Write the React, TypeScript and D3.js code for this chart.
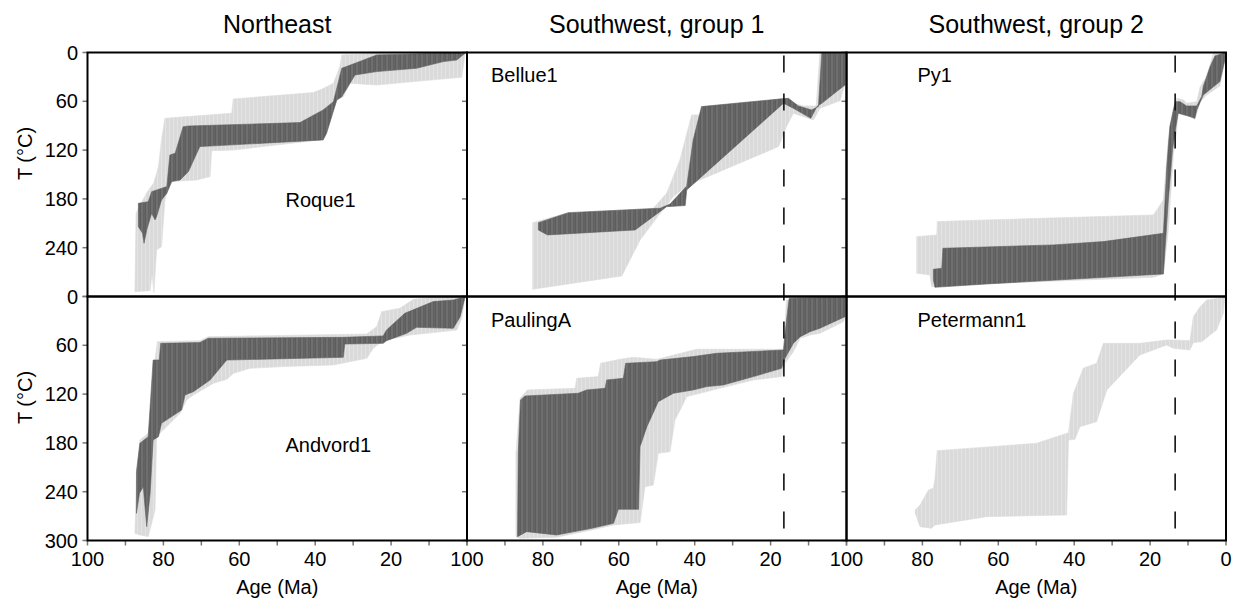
import React from "react";
import * as d3 from "d3";

type P = [number, number];

// ---------- Data: [age (Ma), T (°C)] edges of envelopes ----------
// Roque1
const roqueLightTop: P[] = [[87.5,292],[87.2,197.8],[84.4,172.3],[82.5,160],[81.3,140.3],[80.5,107.5],[79.6,80.9],[62.0,74.7],[61.6,57.1],[40.5,49.3],[38.3,45.2],[35.2,37.9],[33.5,17.4],[33.0,3],[23.8,1],[0.5,0]];
const roqueLightBottom: P[] = [[87.5,294],[83.5,292.9],[83.0,271.6],[82.5,295.2],[81.8,242.8],[80.5,238.7],[79.6,181.4],[78.3,158.7],[71.2,156.7],[67.7,152.6],[67.3,120.7],[61.6,119.9],[38.7,107.5],[34.3,58.4],[32.6,54.3],[30.8,37.9],[23.8,40],[14.1,35.8],[1.4,30.5],[0.5,1]];
const roqueGoodTop: P[] = [[86.6,185.4],[84.0,183.4],[83.1,171.1],[79.1,164.9],[78.3,126],[76.9,123.9],[74.8,91.2],[73.4,90.4],[44.0,86.2],[37.9,70.6],[35.2,60.4],[33.0,19.4],[29.5,13.3],[23.8,3],[1.0,0]];
const roqueGoodBottom: P[] = [[86.6,214.1],[85.5,222.3],[85.1,234.6],[84.4,218.2],[83.1,197.7],[82.2,205.9],[81.8,201.8],[80.5,181.4],[79.1,173.1],[77.8,158.7],[75.6,156.7],[73.4,146.4],[70.4,115.7],[37.9,107.5],[37.0,99.3],[34.3,58.4],[33.0,54.3],[29.5,27.6],[23.8,23.5],[13.3,19.4],[6.2,11.2],[2.7,9.2],[0.5,1]];

// Andvord1
const andvordLightTop: P[] = [[87.5,291.1],[87.1,225.6],[86.2,176.4],[84.0,168.2],[82.2,78.1],[81.6,55.5],[70.4,54.3],[68.2,49.4],[26.4,46.1],[23.8,37.1],[22.5,18.6],[17.7,14.5],[14.1,3.5],[8.9,1],[0.5,0]];
const andvordLightBottom: P[] = [[87.5,291.1],[86.2,293.2],[84.0,295.2],[82.2,262.5],[81.8,172.3],[80.5,166.2],[75.6,143.6],[73.9,127.2],[72.1,121.1],[66.8,106.7],[63.3,101.8],[61.5,94.4],[57.2,88.3],[48.4,86.2],[35.2,84.2],[26.4,76],[24.7,63.7],[22.1,54.3],[15.0,47.3],[8.9,44.4],[2.7,41.2],[1.4,26.8],[0.5,0.2]];
const andvordGoodTop: P[] = [[87.1,215.3],[86.2,180.5],[84.0,172.3],[82.7,78.1],[81.1,78.1],[80.7,57.6],[70.4,56.7],[68.2,51.4],[32.6,50.2],[22.1,48.5],[21.2,41.2],[16.4,20.7],[8.9,6.3],[3.6,4.3],[0.5,0.2]];
const andvordGoodBottom: P[] = [[87.1,266.6],[86.3,242],[85.3,233.8],[84.4,283],[83.5,242],[82.7,176.4],[81.3,172.3],[80.5,155.9],[75.2,139.5],[74.3,121.1],[72.1,117],[67.7,102.6],[63.3,78.1],[32.6,74.8],[32.2,58.4],[22.1,57.6],[21.2,54.3],[15.9,45.3],[13.3,37.9],[3.6,39.1],[1.8,24.8],[0.5,0.2]];

// Bellue1
const bellueLightTop: P[] = [[82.7,209.2],[73.7,197.7],[50.9,191.5],[47.4,173.1],[43.9,132.1],[40.8,76.8],[38.2,76.8],[16.6,57.5],[14.0,62.4],[11.4,65.7],[8.0,65.7],[7.0,1],[0.4,1]];
const bellueLightBottom: P[] = [[82.7,291.1],[59.2,274.7],[54.4,230.5],[49.1,197.7],[45.6,177.2],[41.7,162.8],[17.9,115.7],[15.8,91.1],[14.0,74.7],[8.7,82.9],[7.0,68.6],[1.7,59.2],[0.4,37.9],[0.4,1]];
const bellueGoodTop: P[] = [[81.2,209.2],[73.3,196.9],[49.1,191.5],[46.5,186.2],[42.1,164.1],[40.4,107.5],[38.2,66.5],[16.6,56.7],[15.3,56.3],[12.7,65.7],[9.2,70.6],[7.4,66.5],[6.5,1],[0.4,1]];
const bellueGoodBottom: P[] = [[81.2,218.2],[78.8,224.3],[55.7,218.2],[47.4,189.5],[42.5,188.2],[42.1,169],[16.6,62.4],[14.0,68.6],[9.4,80.9],[7.8,66.5],[6.5,62.4],[0.4,39.9]];

// PaulingA
const paulingLightTop: P[] = [[87.1,295.3],[87.1,192.8],[86.0,125.2],[84.1,114.9],[71.5,112.9],[71.1,100.6],[65.4,98.5],[64.8,82.2],[59.7,77.2],[56.2,74.8],[50.0,77.2],[39.5,64.9],[16.6,64.9],[15.8,4.3],[0.4,1]];
const paulingLightBottom: P[] = [[87.1,295.3],[86.0,297.3],[76.4,296],[67.1,287],[61.4,280.9],[54.4,278],[53.1,233.8],[50.9,231.7],[49.6,192.8],[46.5,190.8],[45.2,151.8],[43.4,135.4],[42.1,123.1],[38.6,119],[31.6,110.8],[24.5,102.6],[17.1,98.5],[16.2,82.2],[14.0,67.8],[12.2,51.4],[9.6,47.3],[7.0,45.3],[0.8,30.9],[0.4,24.8]];
const paulingGoodTop: P[] = [[86.7,295.3],[86.5,192.8],[85.9,127.2],[84.7,122.3],[70.7,119],[68.5,114.9],[63.6,112.9],[63.2,102.6],[58.8,100.6],[58.2,82.2],[50.0,80.1],[49.1,78.1],[40.4,73.9],[34.2,69.8],[16.6,65.8],[15.8,28.9],[15.1,2.2],[0.4,1]];
const paulingGoodBottom: P[] = [[86.7,295.3],[84.3,289.1],[76.4,293.2],[67.1,285],[61.4,278.9],[60.1,261.6],[54.8,261.6],[54.4,184.6],[52.6,160],[49.6,129.3],[45.6,119],[40.4,114.9],[36.8,110.8],[32.5,108.8],[24.5,98.5],[17.1,88.3],[16.2,76],[14.0,57.6],[12.2,49.4],[9.6,43.2],[7.0,39.1],[0.4,24.8]];

// Py1
const pyLightTop: P[] = [[81.5,226.4],[76.2,224.3],[76.1,207.9],[63.1,205.9],[19.1,199.7],[16.5,181.3],[15.2,107.5],[13.9,70.6],[13.0,56.3],[11.2,58.3],[10.4,62.4],[7.7,60.4],[6.8,42],[5.1,29.7],[3.3,1],[0.3,0.2]];
const pyLightBottom: P[] = [[81.5,271.4],[78.0,273.5],[77.6,287.8],[71.8,285.8],[19.1,276.4],[16.5,272.3],[15.2,218.2],[13.9,128],[13.0,95.2],[12.6,72.7],[10.4,76.8],[8.2,82.1],[6.8,60.4],[5.1,52.2],[1.6,41.1],[0.3,9.2]];
const pyGoodTop: P[] = [[77.1,266.5],[74.9,265.3],[74.6,240.7],[45.5,236.6],[32.3,232.5],[16.5,222.3],[15.6,140.3],[14.8,91.1],[13.4,60.4],[12.1,60.4],[10.4,65.7],[7.7,65.7],[6.4,54.2],[6.0,42],[4.2,17.4],[2.9,4.2],[0.3,0.2]];
const pyGoodBottom: P[] = [[77.1,279.6],[76.7,288.7],[63.1,284.6],[16.5,272.3],[15.2,181.3],[14.1,119.8],[13.2,91.1],[12.6,74.7],[9.5,78.8],[8.2,80.9],[7.7,70.6],[6.0,52.2],[1.6,35.8],[0.3,9.2]];

// Petermann1 (acceptable paths only)
const petermannLightTop: P[] = [[81.9,262.5],[80.6,256.3],[78.4,237.9],[77.1,235.8],[76.7,224.8],[76.1,189.5],[49.9,180.5],[41.5,167.4],[40.2,119],[37.6,88.3],[34.1,82.1],[32.3,57.6],[22.7,57.6],[15.6,53.5],[13.9,53.5],[9.5,54.3],[8.6,24.8],[6.8,12.5],[5.1,4.3],[0.3,1]];
const petermannLightBottom: P[] = [[81.9,266.6],[80.6,283],[77.6,285],[76.7,280.9],[63.1,270.7],[42.0,268.6],[41.5,176.4],[39.8,175.6],[38.5,160],[34.1,153.9],[31.4,114.9],[22.7,71.9],[15.6,59.6],[13.9,63.7],[9.5,65.8],[8.6,56.7],[6.4,55.5],[2.5,41.2],[0.7,20.7],[0.3,1]];

// ---------- Categories / ticks ----------
const columnTitles = ["Northeast", "Southwest, group 1", "Southwest, group 2"];
const sampleNames = ["Roque1", "Bellue1", "Py1", "Andvord1", "PaulingA", "Petermann1"];
const dashedAges = [NaN, 16.5, 13.4];
const ageTicks = [100, 90, 80, 70, 60, 50, 40, 30, 20, 10, 0];
// at shared borders the "0" of one column coincides with the "100" of the next
const ageLabelTicksInner = [100, 80, 60, 40, 20];
const ageLabelTicksLast = [100, 80, 60, 40, 20, 0];
const tempTicks = [0, 60, 120, 180, 240, 300];
const tempLabelsTop = [0, 60, 120, 180, 240];
const tempLabelsBottom = [0, 60, 120, 180, 240, 300];

const envelopes: { light: [P[], P[]]; good: [P[], P[]] | null }[] = [
  { light: [roqueLightTop, roqueLightBottom], good: [roqueGoodTop, roqueGoodBottom] },
  { light: [bellueLightTop, bellueLightBottom], good: [bellueGoodTop, bellueGoodBottom] },
  { light: [pyLightTop, pyLightBottom], good: [pyGoodTop, pyGoodBottom] },
  { light: [andvordLightTop, andvordLightBottom], good: [andvordGoodTop, andvordGoodBottom] },
  { light: [paulingLightTop, paulingLightBottom], good: [paulingGoodTop, paulingGoodBottom] },
  { light: [petermannLightTop, petermannLightBottom], good: null },
];

// ---------- Layout ----------
const W = 1236, H = 598;
const X0 = 87.5, PW = 379.5, Y0 = 52.5, PH = 244;
const FONT = "'Liberation Sans', Arial, Helvetica, sans-serif";
// label offsets from panel's top-left corner (px)
const labelOffsets: [number, number][] = [
  [198, 154], [24, 29], [71, 29],
  [198, 155], [24, 30], [71, 30],
];

export default function App() {
  const line = (xs: d3.ScaleLinear<number, number>, ys: d3.ScaleLinear<number, number>) =>
    d3.line<P>().x((d) => xs(d[0])).y((d) => ys(d[1]));

  const panels = envelopes.map((env, i) => {
    const col = i % 3, row = Math.floor(i / 3);
    const px = X0 + col * PW, py = Y0 + row * PH;
    const xs = d3.scaleLinear().domain([100, 0]).range([px, px + PW]);
    const ys = d3.scaleLinear().domain([0, 300]).range([py, py + PH]);
    const gen = line(xs, ys);
    const poly = (pair: [P[], P[]]) => gen([...pair[0], ...pair[1].slice().reverse()]) + "Z";
    return { i, col, row, px, py, xs, ys, lightD: poly(env.light), goodD: env.good ? poly(env.good) : null };
  });

  return (
    <svg width={W} height={H} style={{ position: "fixed", left: 0, top: 0, background: "#fff", fontFamily: FONT }}>
      <defs>
        <pattern id="darkStripe" width="5" height="10" patternUnits="userSpaceOnUse">
          <rect width="5" height="10" fill="#5d5d5d" />
          <rect x="1.5" width="1" height="10" fill="#808080" />
          <rect x="3.8" width="0.6" height="10" fill="#6e6e6e" />
        </pattern>
        <pattern id="lightStripe" width="4" height="10" patternUnits="userSpaceOnUse">
          <rect width="4" height="10" fill="#dadada" />
          <rect x="1" width="1" height="10" fill="#e4e4e4" />
        </pattern>
        {panels.map((p) => (
          <clipPath id={`clip${p.i}`} key={p.i}>
            <rect x={p.px} y={p.py} width={PW} height={PH} />
          </clipPath>
        ))}
      </defs>

      {panels.map((p) => (
        <g key={p.i} clipPath={`url(#clip${p.i})`}>
          <path d={p.lightD} fill="url(#lightStripe)" stroke="#dcdcdc" strokeWidth={0.6} />
          {p.goodD && <path d={p.goodD} fill="url(#darkStripe)" stroke="#606060" strokeWidth={0.6} />}
        </g>
      ))}

      {/* dashed reference lines */}
      {[1, 2].map((col) => {
        const xs = d3.scaleLinear().domain([100, 0]).range([X0 + col * PW, X0 + (col + 1) * PW]);
        return (
          <line key={col} x1={xs(dashedAges[col])} x2={xs(dashedAges[col])} y1={Y0} y2={Y0 + 2 * PH}
            stroke="#111" strokeWidth={1.6} strokeDasharray="17 21" strokeDashoffset={-3} />
        );
      })}

      {/* y ticks on each column's left edge */}
      {[0, 1, 2].map((col) =>
        [0, 1].map((row) => {
          const ys = d3.scaleLinear().domain([0, 300]).range([Y0 + row * PH, Y0 + (row + 1) * PH]);
          return tempTicks.map((t) => (
            <line key={`yt${col}${row}${t}`} x1={X0 + col * PW - 5} x2={X0 + col * PW} y1={ys(t)} y2={ys(t)}
              stroke="#777" strokeWidth={1.5} />
          ));
        })
      )}

      {/* x ticks on bottom */}
      {[0, 1, 2].map((col) => {
        const xs = d3.scaleLinear().domain([100, 0]).range([X0 + col * PW, X0 + (col + 1) * PW]);
        return ageTicks.map((a) => (
          <line key={`xt${col}${a}`} x1={xs(a)} x2={xs(a)} y1={Y0 + 2 * PH} y2={Y0 + 2 * PH + 5}
            stroke="#777" strokeWidth={1.5} />
        ));
      })}

      {/* frames */}
      {panels.map((p) => (
        <rect key={`f${p.i}`} x={p.px} y={p.py} width={PW} height={PH} fill="none" stroke="#000" strokeWidth={2} />
      ))}

      {/* y tick labels */}
      {[0, 1].map((row) => {
        const ys = d3.scaleLinear().domain([0, 300]).range([Y0 + row * PH, Y0 + (row + 1) * PH]);
        const labels = row === 0 ? tempLabelsTop : tempLabelsBottom;
        return labels.map((t) => (
          <text key={`yl${row}${t}`} x={78} y={ys(t)} dy="0.35em" textAnchor="end" fontSize={20} fill="#000">
            {t}
          </text>
        ));
      })}
      {[0, 1].map((row) => (
        <text key={`ylab${row}`} transform={`translate(32,${Y0 + row * PH + PH / 2 - 21}) rotate(-90)`}
          textAnchor="middle" fontSize={20} fill="#000">T (°C)</text>
      ))}

      {/* x tick labels & axis titles */}
      {[0, 1, 2].map((col) => {
        const xs = d3.scaleLinear().domain([100, 0]).range([X0 + col * PW, X0 + (col + 1) * PW]);
        const labs = col === 2 ? ageLabelTicksLast : ageLabelTicksInner;
        return (
          <g key={`xl${col}`}>
            {labs.map((a) => (
              <text key={a} x={xs(a)} y={566} textAnchor="middle" fontSize={20} fill="#000">{a}</text>
            ))}
            <text x={X0 + col * PW + PW / 2} y={594} textAnchor="middle" fontSize={20} fill="#000">Age (Ma)</text>
            <text x={X0 + col * PW + PW / 2} y={33} textAnchor="middle" fontSize={25} fill="#000">{columnTitles[col]}</text>
          </g>
        );
      })}

      {/* sample labels */}
      {panels.map((p) => (
        <text key={`s${p.i}`} x={p.px + labelOffsets[p.i][0]} y={p.py + labelOffsets[p.i][1]} fontSize={20} fill="#000">
          {sampleNames[p.i]}
        </text>
      ))}
    </svg>
  );
}
